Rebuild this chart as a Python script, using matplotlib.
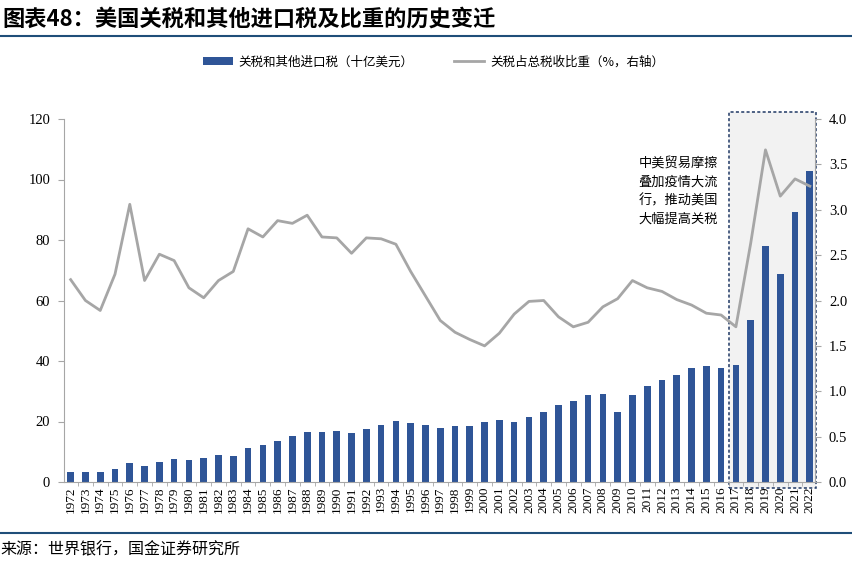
import matplotlib.pyplot as plt
import matplotlib.transforms as mtransforms
from matplotlib.patches import Rectangle
import numpy as np

years = list(range(1972, 2023))
tariffs = [3.3, 3.3, 3.4, 4.3, 6.2, 5.3, 6.7, 7.6, 7.4, 8.0,
           8.8, 8.7, 11.3, 12.2, 13.6, 15.2, 16.4, 16.4, 16.9, 16.2,
           17.4, 19.0, 20.3, 19.5, 18.8, 18.0, 18.5, 18.5, 20.0, 20.6,
           20.0, 21.5, 23.3, 25.3, 26.9, 28.8, 29.1, 23.1, 28.6, 31.9,
           33.7, 35.5, 37.6, 38.2, 37.6, 38.6, 53.4, 77.9, 68.7, 89.3,
           102.7]
share = [2.23, 2.00, 1.89, 2.29, 3.06, 2.22, 2.51, 2.44, 2.14, 2.03,
         2.22, 2.32, 2.79, 2.70, 2.88, 2.85, 2.94, 2.70, 2.69, 2.52,
         2.69, 2.68, 2.62, 2.32, 2.05, 1.78, 1.65, 1.57, 1.50, 1.64,
         1.85, 1.99, 2.00, 1.82, 1.71, 1.76, 1.93, 2.02, 2.22, 2.14,
         2.10, 2.01, 1.95, 1.86, 1.84, 1.71, 2.63, 3.66, 3.15, 3.34,
         3.26]
note = "中美贸易摩擦\n叠加疫情大流\n行，推动美国\n大幅提高关税"

cjk = ['Noto Sans CJK SC', 'DejaVu Sans']
serif = ['Liberation Serif', 'DejaVu Serif']
bar_color = '#2F5597'
line_color = '#A6A6A6'
axis_color = '#A6A6A6'

fig = plt.figure(figsize=(8.53, 5.67), dpi=100)
ax = fig.add_axes([64 / 853, 85 / 567, 751 / 853, 363 / 567])
ax2 = ax.twinx()

x = np.arange(len(years))

# highlighted region 2017-2022
trans = mtransforms.blended_transform_factory(ax.transData, ax.transAxes)
box = Rectangle((x[-6] - 0.5, -0.017), 5.95, 1.036, transform=trans,
                facecolor='#F2F2F2', edgecolor='#1F3864', linestyle=(0, (2, 1.5)),
                linewidth=1.1, clip_on=False, zorder=0)
ax.add_patch(box)

ax.bar(x, tariffs, width=0.45, color=bar_color, zorder=2,
       label='关税和其他进口税（十亿美元）')
ax2.plot(x, share, color=line_color, linewidth=2, zorder=3,
         label='关税占总税收比重（%，右轴）')

ax.set_xlim(-0.45, len(years) - 0.65)
ax.set_ylim(0, 120)
ax2.set_ylim(0, 4.0)
ax.set_yticks(range(0, 121, 20))
ax2.set_yticks(np.arange(0, 4.01, 0.5))
ax2.set_yticklabels([f'{v:.1f}' for v in np.arange(0, 4.01, 0.5)])

ax.set_xticks(x)
ax.set_xticklabels([str(y) for y in years], rotation=90, fontfamily=serif, fontsize=9.5)
ax.set_xticks(x[:-1] + 0.5, minor=True)
ax.tick_params(axis='x', which='major', length=0, pad=3)
ax.tick_params(axis='x', which='minor', length=3, color=axis_color, direction='out')

for a in (ax, ax2):
    for sp in a.spines.values():
        sp.set_visible(False)
ax.spines['left'].set_visible(True)
ax.spines['left'].set_color(axis_color)
ax.spines['bottom'].set_visible(True)
ax.spines['bottom'].set_color(axis_color)
ax2.spines['right'].set_visible(True)
ax2.spines['right'].set_color(axis_color)

ax.tick_params(axis='y', length=4, color=axis_color, labelsize=10.5, pad=6)
ax2.tick_params(axis='y', length=4, color=axis_color, labelsize=10.5, pad=6)
for lab in ax.get_yticklabels() + ax2.get_yticklabels():
    lab.set_fontfamily(serif)

ax.text(x[-12] - 0.6, 107.5, note, fontfamily=cjk, fontsize=9.5, va='top',
        ha='left', linespacing=1.55, zorder=4)

h1, l1 = ax.get_legend_handles_labels()
h2, l2 = ax2.get_legend_handles_labels()
fig.legend(h1 + h2, l1 + l2, loc='center', bbox_to_anchor=(0.508, 1 - 62 / 567),
           ncol=2, frameon=False, prop={'family': cjk, 'size': 9},
           handlelength=2.4, handleheight=0.6, columnspacing=3.2, handletextpad=0.5)

fig.text(0.003, 1 - 19 / 567, '图表48：美国关税和其他进口税及比重的历史变迁',
         fontfamily=cjk, fontsize=16, fontweight='bold', fontstyle='italic',
         va='center', ha='left')
fig.add_artist(plt.Line2D([0, 1], [1 - 36 / 567, 1 - 36 / 567], color='#1F4E79',
                          linewidth=1.5, transform=fig.transFigure))
fig.add_artist(plt.Line2D([0, 1], [1 - 533 / 567, 1 - 533 / 567], color='#1F4E79',
                          linewidth=1.5, transform=fig.transFigure))
fig.text(0.0, 1 - 550 / 567, '来源：世界银行，国金证券研究所', fontfamily=cjk,
         fontsize=11.5, va='center', ha='left')

fig.savefig('out.png', dpi=100)
